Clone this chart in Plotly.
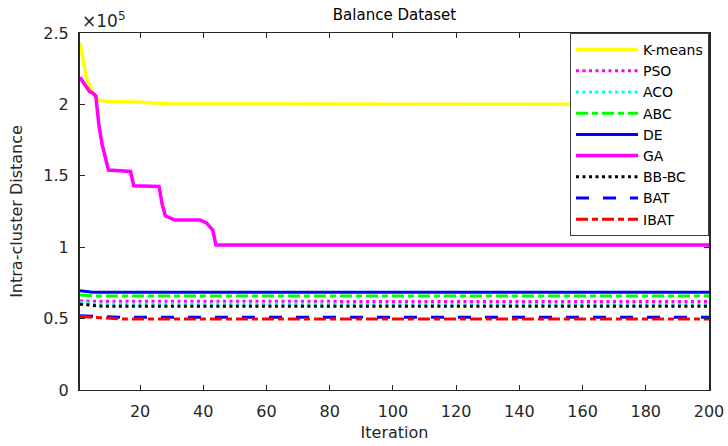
import plotly.graph_objects as go

# ---------------- data (values in units of 1e5) ----------------
scale = 1e5

kmeans_x = [1, 3, 5, 7, 10, 20, 30, 200]
kmeans_y = [2.43, 2.19, 2.08, 2.03, 2.02, 2.015, 2.003, 2.0]

pso_x = [1, 5, 200]
pso_y = [0.625, 0.621, 0.620]

aco_x = [1, 6, 200]
aco_y = [0.615, 0.600, 0.599]

abc_x = [1, 5, 200]
abc_y = [0.665, 0.659, 0.658]

de_x = [1, 5, 200]
de_y = [0.695, 0.685, 0.684]

ga_x = [1, 2, 3, 4, 5, 6, 7, 8, 10, 17, 18, 26, 27, 28, 31, 39, 41, 43, 44, 200]
ga_y = [2.19, 2.16, 2.13, 2.09, 2.08, 2.06, 1.85, 1.72, 1.54, 1.53, 1.43, 1.425,
        1.30, 1.22, 1.19, 1.19, 1.17, 1.12, 1.015, 1.015]

bbbc_x = [1, 8, 200]
bbbc_y = [0.600, 0.587, 0.586]

bat_x = [1, 8, 15, 200]
bat_y = [0.520, 0.515, 0.509, 0.509]

ibat_x = [1, 8, 15, 200]
ibat_y = [0.515, 0.505, 0.497, 0.497]

names = ["K-means", "PSO", "ACO", "ABC", "DE", "GA", "BB-BC", "BAT", "IBAT"]
xs = [kmeans_x, pso_x, aco_x, abc_x, de_x, ga_x, bbbc_x, bat_x, ibat_x]
ys = [kmeans_y, pso_y, aco_y, abc_y, de_y, ga_y, bbbc_y, bat_y, ibat_y]

x_ticks = [20, 40, 60, 80, 100, 120, 140, 160, 180, 200]
y_tick_vals = [0, 0.5, 1, 1.5, 2, 2.5]
y_tick_text = ["0", "0.5", "1", "1.5", "2", "2.5"]

# ---------------- styles ----------------
colors = ["#FFFF00", "#FF00FF", "#00FFFF", "#00FF00", "#0000FF",
          "#FF00FF", "#000000", "#0000FF", "#FF0000"]
dashes = ["solid", "3px,3.5px", "3px,3.5px", "12px,4px,6px,4px", "solid",
          "solid", "3px,3.5px", "13px,14px", "12px,4px,6px,4px"]
widths = [3.5, 3, 3, 3, 3, 3.5, 3, 3, 3]

FONT = "DejaVu Sans"
AX = "#262626"

fig = go.Figure()
for n, x, y, c, d, w in zip(names, xs, ys, colors, dashes, widths):
    fig.add_trace(go.Scatter(
        x=x, y=[v * scale for v in y], mode="lines", name=n,
        line=dict(color=c, dash=d, width=w),
    ))

fig.update_layout(
    width=728, height=446,
    margin=dict(l=80, r=19, t=33, b=56),
    paper_bgcolor="white", plot_bgcolor="white",
    font=dict(family=FONT, size=16, color=AX),
    title=dict(text="Balance Dataset", x=0.5, xref="paper", xanchor="center",
               y=1, yref="paper", yanchor="bottom", pad=dict(b=13),
               font=dict(family=FONT, size=15, color="#000000")),
    showlegend=True,
    legend=dict(x=1, y=1, xanchor="right", yanchor="top",
                bgcolor="white", bordercolor="#404040", borderwidth=1,
                font=dict(family=FONT, size=14, color="#000000"),
                itemwidth=62, tracegroupgap=0),
    xaxis=dict(range=[1, 200], tickvals=x_ticks, ticks="inside", ticklen=5,
               tickwidth=1.3, tickcolor=AX, showline=True, linecolor=AX,
               linewidth=1.3, mirror="ticks", showgrid=False, zeroline=False,
               ticklabelstandoff=7, automargin=False,
               title=dict(text="Iteration", standoff=6,
                          font=dict(family=FONT, size=16, color=AX)),
               tickfont=dict(family=FONT, size=16, color=AX)),
    yaxis=dict(range=[0, 2.5 * scale], tickvals=[v * scale for v in y_tick_vals],
               ticktext=y_tick_text, ticks="inside", ticklen=5, tickwidth=1.3,
               tickcolor=AX, showline=True, linecolor=AX, linewidth=2,
               mirror="ticks", showgrid=False, zeroline=False,
               ticklabelstandoff=6, automargin=False,
               title=dict(text="Intra-cluster Distance", standoff=17,
                          font=dict(family=FONT, size=16, color=AX)),
               tickfont=dict(family=FONT, size=16, color=AX)),
)

fig.add_annotation(xref="paper", yref="paper", x=0, y=1, xanchor="left",
                   yanchor="bottom", text="×10<sup>5</sup>", showarrow=False,
                   xshift=0, yshift=0,
                   font=dict(family=FONT, size=17, color=AX))

fig.write_html("out.html")
